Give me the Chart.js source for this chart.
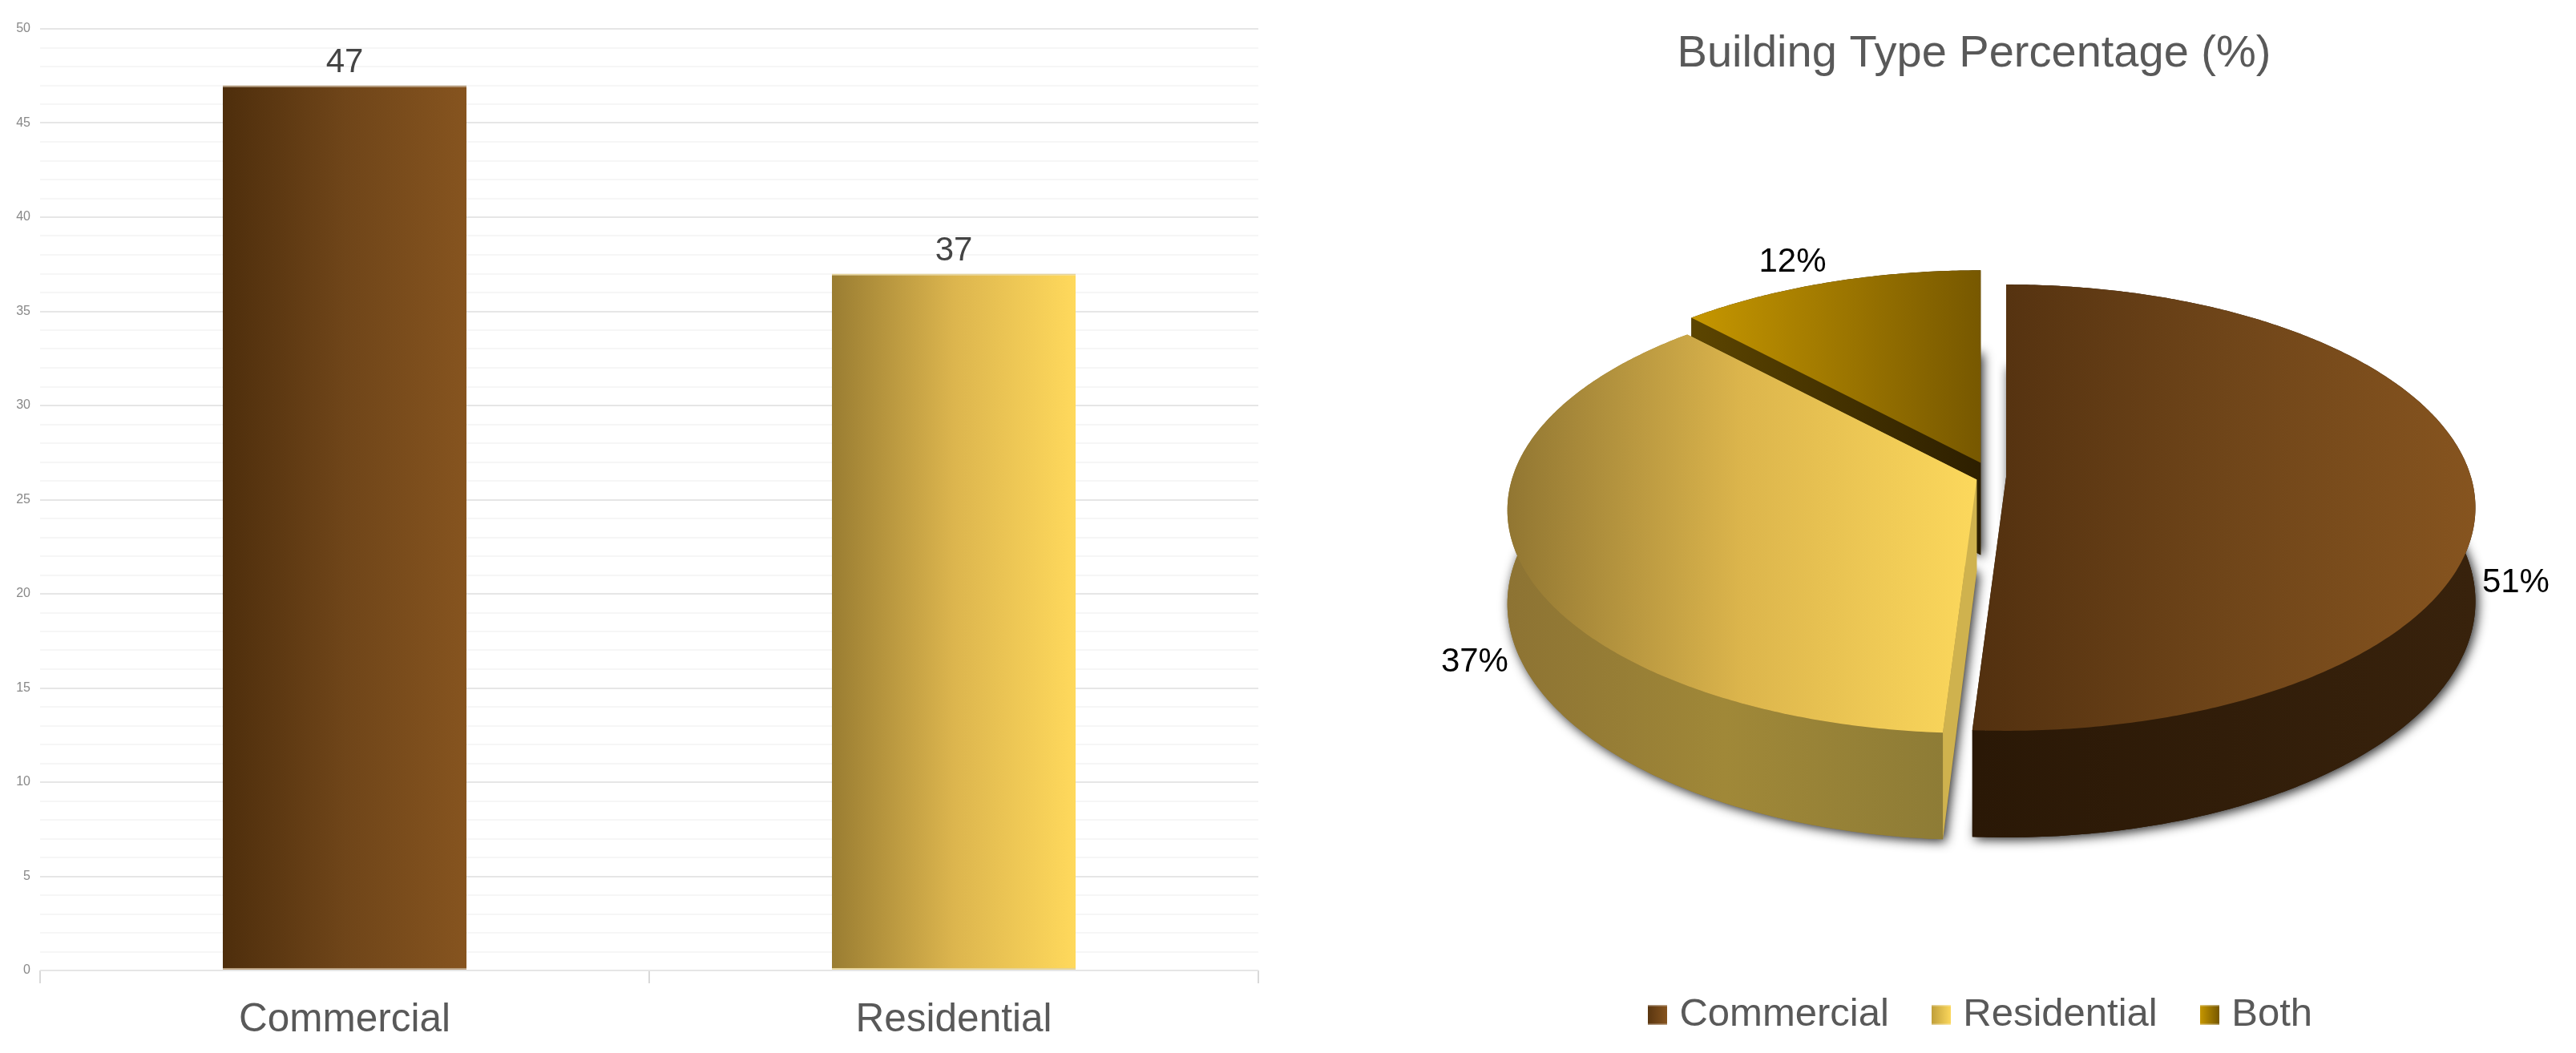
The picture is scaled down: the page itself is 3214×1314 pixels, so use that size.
<!DOCTYPE html>
<html><head><meta charset="utf-8">
<style>
html,body{margin:0;padding:0;background:#fff;width:3214px;height:1314px;overflow:hidden}
canvas{position:absolute;top:0}
#bar{left:0}
#pie{left:1712px}
</style>
<script src="https://cdn.jsdelivr.net/npm/chart.js@4/dist/chart.umd.min.js"></script>
</head><body>
<canvas id="bar" width="1607" height="1314"></canvas>
<canvas id="pie" width="1502" height="1301"></canvas>
<script>
const barCategories = ['Commercial', 'Residential'];
const barValues = [47, 37];
const pieTitle = 'Building Type Percentage (%)';
const pieCategories = ['Commercial', 'Residential', 'Both'];
const pieValues = [51, 37, 12];
const barGradients = [['#4e2e0c', '#6f4519', '#86541f'], ['#9a7d32', '#dcb54e', '#ffd95c']];
const barEdges = ['#b9a081', '#e6d49a'];
const topGradients = [['#52300f', '#6f4519', '#86541f'], ['#917632', '#dcb54c', '#fcd85c'], ['#c69700', '#775800']];
const wallGradients = [['#2a1806', '#38220c'], ['#8d7333', '#a08838', '#8e7c36'], ['#3a2a00', '#3a2a00']];
const cutColors = [['#2a1806', '#2a1806'], ['#cfb24e', '#cfb24e'], ['#5c4500', '#2d1f00']];
const legendGradients = [['#5a3610', '#86541f'], ['#c09f3a', '#fbd75c'], ['#c69700', '#775800']];
const sliceOffsets = [17, 21, 40];

const FONT = '"Liberation Sans", Arial, sans-serif';
Chart.defaults.font.family = FONT;
Chart.defaults.animation = false;

/* ---------- left: bar chart ---------- */
const valueLabels = {
  id: 'valueLabels',
  afterDatasetsDraw(chart) {
    const { ctx } = chart;
    const meta = chart.getDatasetMeta(0);
    ctx.save();
    ctx.font = '42px ' + FONT;
    ctx.fillStyle = '#444444';
    ctx.textAlign = 'center';
    ctx.textBaseline = 'middle';
    meta.data.forEach((el, i) => ctx.fillText(String(barValues[i]), el.x, el.y - 28));
    ctx.restore();
  }
};
new Chart(document.getElementById('bar'), {
  type: 'bar',
  data: {
    labels: barCategories,
    datasets: [{
      data: barValues,
      barPercentage: 0.4,
      categoryPercentage: 1,
      borderSkipped: false,
      borderWidth: { top: 2, bottom: 2, left: 0, right: 0 },
      borderColor: c => barEdges[c.dataIndex],
      backgroundColor(c) {
        const x = c.chart.scales.x;
        if (c.dataIndex === undefined || !x) return '#000';
        const mid = x.getPixelForValue(c.dataIndex);
        const half = (x.right - x.left) / barCategories.length * 0.4 / 2;
        if (!isFinite(mid) || !isFinite(half)) return '#000';
        const g = c.chart.ctx.createLinearGradient(mid - half, 0, mid + half, 0);
        const stops = barGradients[c.dataIndex];
        stops.forEach((col, k) => g.addColorStop(k / (stops.length - 1), col));
        return g;
      }
    }]
  },
  options: {
    responsive: false,
    layout: { padding: { top: 36, right: 37 } },
    plugins: { legend: { display: false }, tooltip: { enabled: false } },
    scales: {
      x: {
        afterFit(s) { s.height = 103; },
        border: { display: false },
        grid: { drawOnChartArea: false, tickLength: 16, tickColor: '#d9d9d9', lineWidth: 2, offset: true },
        ticks: { color: '#595959', font: { size: 49.5 }, padding: 17, maxRotation: 0 }
      },
      y: {
        min: 0, max: 50,
        afterFit(s) { s.width = 50; },
        border: { display: false },
        grid: {
          drawTicks: false,
          lineWidth: 2,
          color: c => c.tick.value % 5 === 0 ? '#e6e6e6' : '#f6f6f6'
        },
        ticks: {
          stepSize: 1, autoSkip: false, padding: 12, color: '#888888', font: { size: 16 },
          callback: v => v % 5 === 0 ? String(v) : ''
        }
      }
    }
  },
  plugins: [valueLabels]
});

/* ---------- right: 3D pie, a pie controller with its own arc element ---------- */
const PERSP = 0.137, TILT = 0.471, DEPTH = 0.198, LABEL_R = 1.02;
const PIE_SHIFT_X = 23, PIE_LIFT_Y = 86, LEGEND_SHIFT_X = 12;

function project(arc, theta, r, z) {
  const R = arc.outerRadius;
  const u = r * Math.sin(theta), v = -r * Math.cos(theta);
  const d = 1 - PERSP * v;
  return {
    x: arc.apexX + R * u / d,
    y: arc.apexY + (R * TILT * v + z * R * DEPTH) / d
  };
}
function applyApex(arc, offset) {
  const mid = (arc.startAngle + arc.endAngle) / 2 + Math.PI / 2;
  arc.apexX = arc.x + PIE_SHIFT_X + offset * Math.sin(mid);
  arc.apexY = arc.y - PIE_LIFT_Y - offset * Math.cos(mid) * TILT;
}
function rimPoints(arc, z) {
  const a = arc.startAngle + Math.PI / 2, b = arc.endAngle + Math.PI / 2;
  const n = Math.max(2, Math.ceil((b - a) / 0.01));
  const pts = [];
  for (let i = 0; i <= n; i++) pts.push(project(arc, a + (b - a) * i / n, 1, z));
  return pts;
}
function tracePoly(ctx, pts) {
  ctx.beginPath();
  pts.forEach((p, i) => i ? ctx.lineTo(p.x, p.y) : ctx.moveTo(p.x, p.y));
  ctx.closePath();
}
function hGradient(ctx, pts, stops) {
  const xs = pts.map(p => p.x);
  const g = ctx.createLinearGradient(Math.min(...xs), 0, Math.max(...xs), 0);
  stops.forEach((c, i) => g.addColorStop(i / (stops.length - 1), c));
  return g;
}
class Arc3D extends Chart.ArcElement {
  static id = 'arc3d';
  static defaults = {};
  draw(ctx) {
    const i = this.$sliceIndex;
    applyApex(this, this.options.offset || 0);
    const a = this.startAngle + Math.PI / 2, b = this.endAngle + Math.PI / 2;
    const apex0 = project(this, 0, 0, 0), apex1 = project(this, 0, 0, 1);
    const top = rimPoints(this, 0), base = rimPoints(this, 1);
    ctx.save();
    // soft shadow thrown by the bottom face
    ctx.save();
    ctx.shadowColor = 'rgba(0,0,0,0.85)';
    ctx.shadowBlur = 14;
    ctx.shadowOffsetX = 3;
    ctx.shadowOffsetY = 3;
    ctx.fillStyle = wallGradients[i][0];
    tracePoly(ctx, [apex1, ...base]);
    ctx.fill();
    ctx.restore();
    // outer wall
    const wall = [...top, ...base.slice().reverse()];
    ctx.fillStyle = hGradient(ctx, wall, wallGradients[i]);
    tracePoly(ctx, wall);
    ctx.fill();
    // cut faces
    [[project(this, a, 1, 0), project(this, a, 1, 1)], [project(this, b, 1, 0), project(this, b, 1, 1)]].forEach(([r0, r1]) => {
      const quad = [apex0, r0, r1, apex1];
      ctx.fillStyle = hGradient(ctx, quad, cutColors[i]);
      tracePoly(ctx, quad);
      ctx.fill();
    });
    // top face
    const face = [apex0, ...top];
    ctx.fillStyle = hGradient(ctx, face, topGradients[i]);
    tracePoly(ctx, face);
    ctx.fill();
    ctx.restore();
  }
}
class Pie3DController extends Chart.PieController {
  static id = 'pie3d';
  static defaults = { dataElementType: 'arc3d' };
  draw() {
    const ctx = this.chart.ctx;
    const els = this.getMeta().data;
    els.forEach((el, i) => { el.$sliceIndex = i; });
    // farthest slice first so nearer slices cover it
    els.slice().reverse().forEach(el => el.draw(ctx));
  }
}
Chart.register(Arc3D, Pie3DController);

const percentLabels = {
  id: 'percentLabels',
  afterLayout(chart) {
    chart.legend.left += LEGEND_SHIFT_X;
    chart.legend.right += LEGEND_SHIFT_X;
  },
  afterDatasetsDraw(chart) {
    const { ctx } = chart;
    ctx.save();
    ctx.font = '42px ' + FONT;
    ctx.fillStyle = '#000000';
    chart.getDatasetMeta(0).data.forEach((el, i) => {
      const mid = (el.startAngle + el.endAngle) / 2 + Math.PI / 2;
      const front = -Math.cos(mid) > 0;
      const p = project(el, mid, LABEL_R, front ? 1 : 0);
      ctx.textAlign = Math.sin(mid) > 0 ? 'left' : 'right';
      ctx.textBaseline = front ? 'middle' : 'bottom';
      ctx.fillText(pieValues[i] + '%', p.x, p.y + (front ? 8 : 0));
    });
    ctx.restore();
  }
};
function swatch(stops) {
  const c = document.createElement('canvas');
  c.width = 24; c.height = 25;
  const x = c.getContext('2d');
  const g = x.createLinearGradient(0, 0, 24, 0);
  g.addColorStop(0, stops[0]); g.addColorStop(1, stops[1]);
  x.fillStyle = g;
  x.fillRect(0, 0, 24, 25);
  x.fillStyle = 'rgba(255,255,255,0.45)';
  x.fillRect(0, 0, 24, 1.5);
  x.fillRect(0, 23.5, 24, 1.5);
  return c;
}
const swatches = legendGradients.map(swatch);

new Chart(document.getElementById('pie'), {
  type: 'pie3d',
  data: {
    labels: pieCategories,
    datasets: [{
      data: pieValues,
      clip: false,
      borderWidth: 0,
      offset: sliceOffsets,
      backgroundColor: topGradients.map(s => s[s.length - 1])
    }]
  },
  options: {
    responsive: false,
    radius: 580,
    plugins: {
      tooltip: { enabled: false },
      title: {
        display: true, text: pieTitle, color: '#595959',
        font: { size: 56, weight: 'normal' },
        padding: { top: 34, bottom: 81 }
      },
      legend: {
        position: 'bottom',
        labels: {
          usePointStyle: true,
          pointStyleWidth: 6,
          padding: 62,
          color: '#595959',
          font: { size: 49 },
          generateLabels(chart) {
            return pieCategories.map((t, i) => ({
              text: t, index: i, fontColor: '#595959', pointStyle: swatches[i],
              fillStyle: topGradients[i][topGradients[i].length - 1], strokeStyle: 'transparent', lineWidth: 0, hidden: false
            }));
          }
        }
      }
    }
  },
  plugins: [percentLabels]
});
</script>
</body></html>
